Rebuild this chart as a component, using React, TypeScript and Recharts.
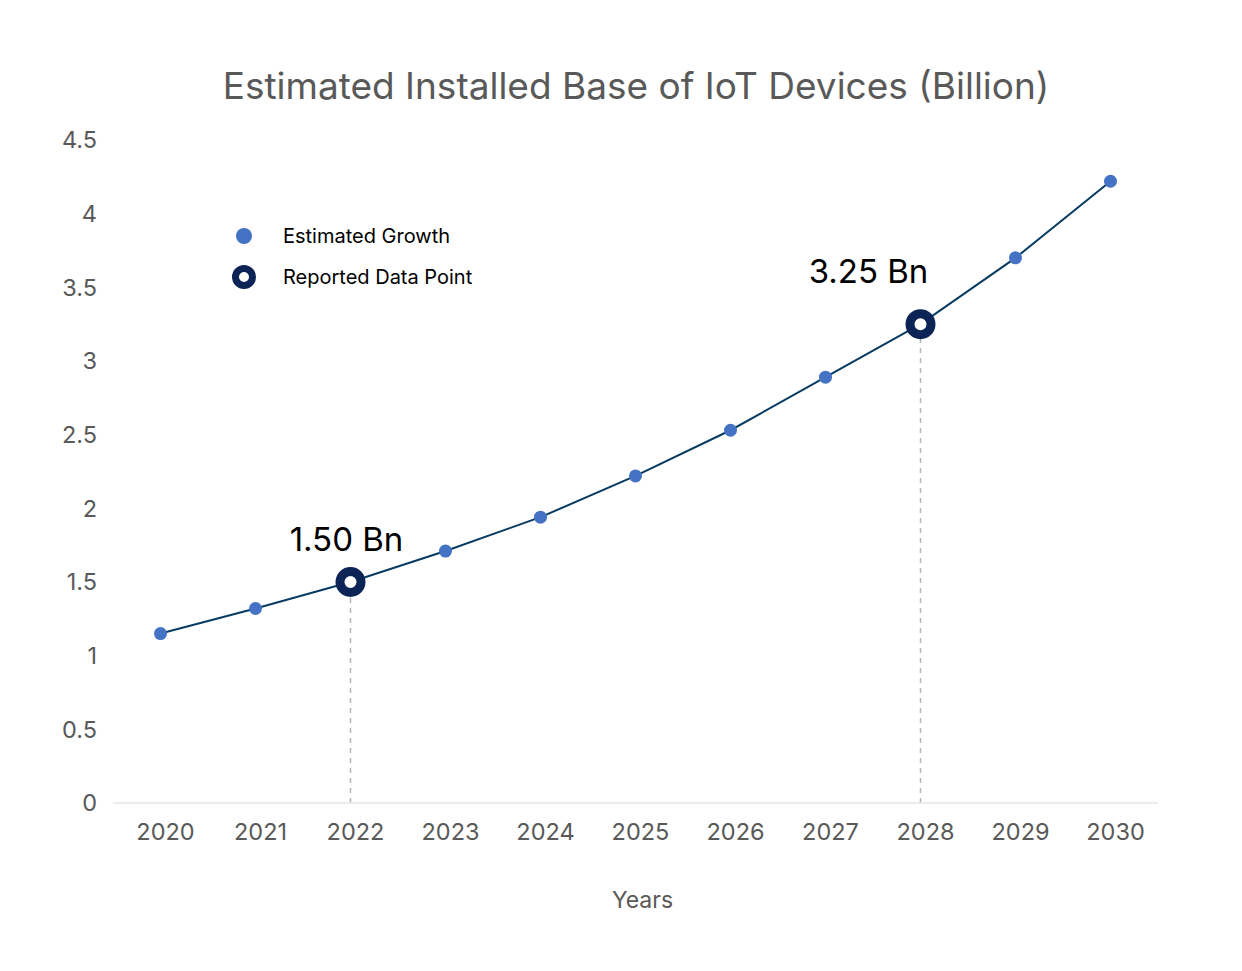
import React from "react";
import {
  LineChart,
  Line,
  XAxis,
  YAxis,
  ReferenceLine,
  LabelList,
  Label,
} from "recharts";

const years = [2020, 2021, 2022, 2023, 2024, 2025, 2026, 2027, 2028, 2029, 2030];
const estimated = [1.15, 1.32, 1.5, 1.71, 1.94, 2.22, 2.53, 2.89, 3.25, 3.7, 4.22];
const reported = [null, null, 1.5, null, null, null, null, null, 3.25, null, null];
const reportedLabels = ["", "", "1.50 Bn", "", "", "", "", "", "3.25 Bn", "", ""];
const yTicks = [0, 0.5, 1, 1.5, 2, 2.5, 3, 3.5, 4, 4.5];

const title = "Estimated Installed Base of IoT Devices (Billion)";
const xTitle = "Years";
const legendItems = ["Estimated Growth", "Reported Data Point"];

const data = years.map((y, i) => ({
  year: y,
  estimated: estimated[i],
  reported: reported[i],
  label: reportedLabels[i],
}));

const FONT = "Inter, 'Noto Sans', sans-serif";
const GRAY = "#595959";
const LINE = "#083b62";
const DOT = "#4472c4";
const NAVY = "#0b2455";

// label placement tweaks (style only)
const labelShift: Record<number, [number, number]> = {
  2: [-4, -31],
  8: [-52, -41],
};

const AnnotLabel = (props: any) => {
  const { x, y, index, value } = props;
  if (value === undefined || value === null || value === "") return null;
  const [dx, dy] = labelShift[index] || [0, -30];
  return (
    <text
      x={x + dx}
      y={y + dy}
      textAnchor="middle"
      fontFamily={FONT}
      fontSize={33}
      fill="#000"
    >
      {value}
    </text>
  );
};

export default function App() {
  return (
    <div
      style={{
        position: "absolute",
        left: 0,
        top: 0,
        width: 1242,
        height: 971,
        background: "#fff",
        fontFamily: FONT,
      }}
    >
      <div
        style={{
          position: "absolute",
          left: 0,
          width: 1242,
          top: 63,
          textAlign: "center",
          fontSize: 37,
          color: GRAY,
          fontFamily: FONT,
          lineHeight: "46px",
          paddingLeft: 30,
          boxSizing: "border-box",
        }}
      >
        {title}
      </div>
      <div
        style={{
          position: "absolute",
          left: 232,
          top: 222,
          fontFamily: FONT,
          fontSize: 20,
          color: "#000",
        }}
      >
        <div style={{ display: "flex", alignItems: "center", height: 28 }}>
          <svg width={24} height={24} style={{ marginRight: 27 }}>
            <circle cx={12} cy={12} r={8} fill={DOT} />
          </svg>
          <span>{legendItems[0]}</span>
        </div>
        <div style={{ display: "flex", alignItems: "center", height: 28, marginTop: 13 }}>
          <svg width={24} height={24} style={{ marginRight: 27 }}>
            <circle cx={12} cy={12} r={8.5} fill="#fff" stroke={NAVY} strokeWidth={7} />
          </svg>
          <span>{legendItems[1]}</span>
        </div>
      </div>
      <div style={{ position: "absolute", left: 0, top: 0 }}>
        <LineChart
          width={1242}
          height={971}
          data={data}
          margin={{ top: 140, right: 84, bottom: 58, left: 63 }}
        >
          <XAxis
            dataKey="year"
            type="category"
            padding={{ left: 47.5, right: 47.5 }}
            height={110}
            tickLine={false}
            tickSize={0}
            tickMargin={20}
            interval={0}
            axisLine={{ stroke: "#e6e6e6", strokeWidth: 1.5 }}
            tick={{ fill: GRAY, fontSize: 23.5, fontFamily: FONT, dx: 5 }}
          >
            <Label
              value={xTitle}
              position="insideBottom"
              offset={5}
              dx={7}
              fill={GRAY}
              fontSize={23}
              fontFamily={FONT}
            />
          </XAxis>
          <YAxis
            type="number"
            domain={[0, 4.5]}
            allowDataOverflow={true}
            ticks={yTicks}
            width={50}
            axisLine={false}
            tickLine={false}
            tickSize={0}
            tickMargin={16}
            tick={{ fill: GRAY, fontSize: 23.5, fontFamily: FONT }}
          />
          <ReferenceLine
            segment={[
              { x: 2022, y: 0 },
              { x: 2022, y: 1.5 },
            ]}
            stroke="#b5b5b5"
            strokeWidth={1.5}
            strokeDasharray="5 5"
          />
          <ReferenceLine
            segment={[
              { x: 2028, y: 0 },
              { x: 2028, y: 3.25 },
            ]}
            stroke="#b5b5b5"
            strokeWidth={1.5}
            strokeDasharray="5 5"
          />
          <Line
            dataKey="estimated"
            type="linear"
            stroke={LINE}
            strokeWidth={2}
            dot={{ r: 6.5, fill: DOT, stroke: "none" }}
            activeDot={false}
            isAnimationActive={false}
          />
          <Line
            dataKey="reported"
            type="linear"
            stroke="none"
            dot={{ r: 10.5, fill: "#fff", stroke: NAVY, strokeWidth: 9 }}
            activeDot={false}
            isAnimationActive={false}
          >
            <LabelList dataKey="label" content={AnnotLabel} />
          </Line>
        </LineChart>
      </div>
    </div>
  );
}
